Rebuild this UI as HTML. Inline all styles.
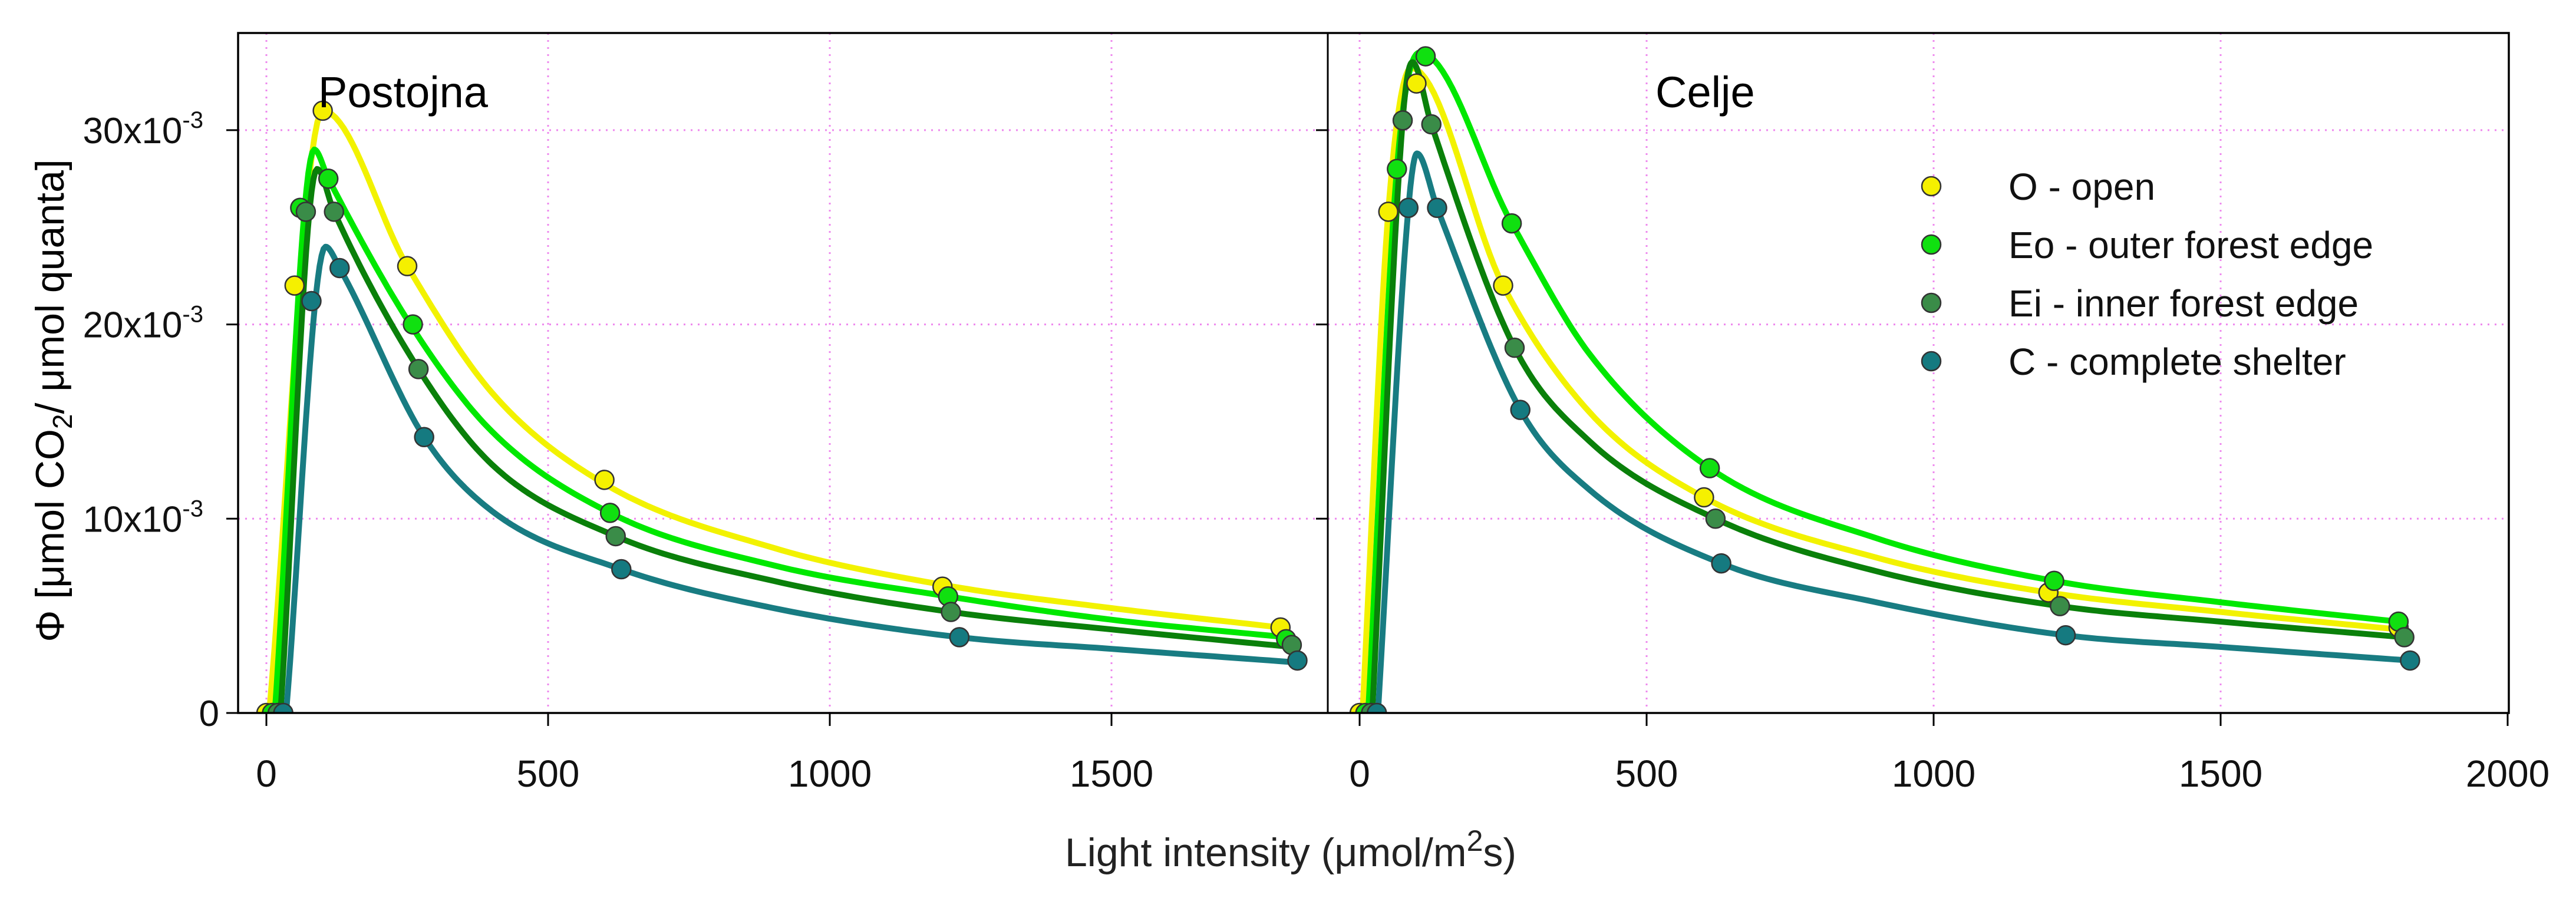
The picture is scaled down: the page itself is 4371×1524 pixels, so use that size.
<!DOCTYPE html>
<html><head><meta charset="utf-8"><style>
html,body{margin:0;padding:0;background:#fff;}
svg{display:block;font-family:"Liberation Sans",sans-serif;}
</style></head><body>
<svg id="chart" width="4371" height="1524" viewBox="0 0 4371 1524">
<g id="grid"></g>
<defs>
<clipPath id="clip1"><rect x="404" y="56" width="1849" height="1154"/></clipPath>
<clipPath id="clip2"><rect x="2253" y="56" width="2004" height="1154"/></clipPath>
</defs>
<g id="series1" clip-path="url(#clip1)"></g>
<g id="series2" clip-path="url(#clip2)"></g>
<g id="axes"></g>
<text x="540" y="182" font-size="74">Postojna</text>
<text x="2809" y="182" font-size="74">Celje</text>
<text transform="translate(108,680) rotate(-90)" text-anchor="middle" font-size="68">Φ [μmol CO<tspan font-size="46" dy="14">2</tspan><tspan dy="-14">/ μmol quanta]</tspan></text>
<text x="2190" y="1470" text-anchor="middle" font-size="68" fill="#222">Light intensity (μmol/m<tspan font-size="50" dy="-26">2</tspan><tspan dy="26">s)</tspan></text>
<g id="legend"></g>
</svg>
<script>
const yTicks=[0,0.01,0.02,0.03];
const yTickLabels=["0","10x10","20x10","30x10"];
const xTicks1=[0,500,1000,1500];
const xTicks2=[0,500,1000,1500,2000];
const seriesNames=["O - open","Eo - outer forest edge","Ei - inner forest edge","C - complete shelter"];
// Postojna measured points
const pX_O=[0,50,100,250,600,1200,1800];
const pY_O=[0,0.022,0.031,0.023,0.012,0.0065,0.0044];
const pX_Eo=[10,60,110,260,610,1210,1810];
const pY_Eo=[0,0.026,0.0275,0.020,0.0103,0.006,0.0038];
const pX_Ei=[20,70,120,270,620,1215,1820];
const pY_Ei=[0,0.0258,0.0258,0.0177,0.0091,0.0052,0.0035];
const pX_C=[30,80,130,280,630,1230,1830];
const pY_C=[0,0.0212,0.0229,0.0142,0.0074,0.0039,0.0027];
// Postojna fitted curves
const pcX_O=[5,100,250,400,600,900,1200,1500,1800];
const pcY_O=[0,0.031,0.023,0.0165,0.0118,0.0085,0.0066,0.0054,0.0044];
const pcX_Eo=[15,85,110,260,400,610,900,1210,1500,1810];
const pcY_Eo=[0,0.029,0.0275,0.0198,0.0145,0.0103,0.0076,0.006,0.0048,0.0039];
const pcX_Ei=[25,90,120,270,400,620,900,1215,1500,1820];
const pcY_Ei=[0,0.028,0.0258,0.0177,0.0128,0.0091,0.0068,0.0052,0.0043,0.0034];
const pcX_C=[35,105,130,280,400,630,900,1230,1500,1830];
const pcY_C=[0,0.024,0.0229,0.0142,0.0104,0.0074,0.0054,0.0039,0.0033,0.0026];
// Celje measured points
const cX_O=[0,50,99,250,600,1200,1810];
const cY_O=[0,0.0258,0.0324,0.022,0.0111,0.0062,0.0044];
const cX_Eo=[10,65,115,265,610,1210,1810];
const cY_Eo=[0,0.028,0.0338,0.0252,0.0126,0.0068,0.0047];
const cX_Ei=[20,75,125,270,620,1220,1820];
const cY_Ei=[0,0.0305,0.0303,0.0188,0.0100,0.0055,0.0039];
const cX_C=[30,85,135,280,630,1230,1830];
const cY_C=[0,0.026,0.026,0.0156,0.0077,0.0040,0.0027];
// Celje fitted curves
const ccX_O=[5,50,90,250,400,600,900,1200,1500,1810];
const ccY_O=[0,0.0258,0.0332,0.022,0.0155,0.0111,0.0080,0.0062,0.0052,0.0043];
const ccX_Eo=[15,65,105,265,400,610,900,1210,1500,1810];
const ccY_Eo=[0,0.028,0.034,0.0252,0.0185,0.0126,0.0090,0.0068,0.0057,0.0047];
const ccX_Ei=[22,75,92,125,270,400,620,900,1220,1500,1820];
const ccY_Ei=[0,0.0305,0.0335,0.0303,0.0188,0.0140,0.0100,0.0073,0.0055,0.0047,0.0039];
const ccX_C=[32,85,100,135,280,400,630,900,1230,1500,1830];
const ccY_C=[0,0.026,0.0288,0.026,0.0156,0.0115,0.0077,0.0057,0.0040,0.0034,0.0027];

const NS="http://www.w3.org/2000/svg";
const lineCols=["#f2f200","#00e800","#0a800a","#187c82"];
const markCols=["#f5f000","#10e010","#3a8c48","#157a80"];
const keys=["O","Eo","Ei","C"];
const TOP=56,BOT=1210;
function yS(v){return BOT-v/0.035*(BOT-TOP);}
const panels=[
 {x0:452,k:0.956,left:404,right:2253,pts:[[pX_O,pY_O],[pX_Eo,pY_Eo],[pX_Ei,pY_Ei],[pX_C,pY_C]],crv:[[pcX_O,pcY_O],[pcX_Eo,pcY_Eo],[pcX_Ei,pcY_Ei],[pcX_C,pcY_C]],xt:xTicks1,g:"series1",nm:"postojna"},
 {x0:2307,k:0.974,left:2253,right:4257,pts:[[cX_O,cY_O],[cX_Eo,cY_Eo],[cX_Ei,cY_Ei],[cX_C,cY_C]],crv:[[ccX_O,ccY_O],[ccX_Eo,ccY_Eo],[ccX_Ei,ccY_Ei],[ccX_C,ccY_C]],xt:xTicks2,g:"series2",nm:"celje"}
];
function mk(tag,attrs,parent){const e=document.createElementNS(NS,tag);for(const a in attrs)e.setAttribute(a,attrs[a]);parent.appendChild(e);return e;}
function monotone(xs,ys){
 const n=xs.length,d=[],m=new Array(n);
 for(let i=0;i<n-1;i++)d.push((ys[i+1]-ys[i])/(xs[i+1]-xs[i]));
 m[0]=d[0];m[n-1]=d[n-2];
 for(let i=1;i<n-1;i++){m[i]=(d[i-1]*d[i]<=0)?0:(d[i-1]+d[i])/2;}
 for(let i=0;i<n-1;i++){if(d[i]===0){m[i]=0;m[i+1]=0;continue;}const a=m[i]/d[i],b=m[i+1]/d[i],s=a*a+b*b;if(s>9){const t=3/Math.sqrt(s);m[i]=t*a*d[i];m[i+1]=t*b*d[i];}}
 const out=[];
 for(let i=0;i<n-1;i++){const h=xs[i+1]-xs[i];for(let j=0;j<20;j++){const t=j/20,t2=t*t,t3=t2*t;
  const y=(2*t3-3*t2+1)*ys[i]+(t3-2*t2+t)*h*m[i]+(-2*t3+3*t2)*ys[i+1]+(t3-t2)*h*m[i+1];out.push([xs[i]+t*h,y]);}}
 out.push([xs[n-1],ys[n-1]]);return out;
}
const grid=document.getElementById("grid"),axes=document.getElementById("axes");
panels.forEach(p=>{
 const xS=v=>p.x0+v*p.k;
 p.xt.forEach(t=>{const X=xS(t);
  if(X<p.right-2){const gl=mk("line",{x1:X,x2:X,y1:TOP,y2:BOT,stroke:"#ee88ee","stroke-width":3,"stroke-dasharray":"3 9"},grid);
  
  }
  const tk=mk("line",{x1:X,x2:X,y1:BOT,y2:BOT+22,stroke:"#000","stroke-width":3},axes);
  
  
  const tl=mk("text",{x:X,y:1335,"text-anchor":"middle","font-size":64,fill:"#111"},axes);tl.textContent=String(t);
  
  
 });
 yTicks.forEach((t,i)=>{const Y=yS(t);
  if(i>0){const gl=mk("line",{x1:p.left,x2:p.right,y1:Y,y2:Y,stroke:"#ee88ee","stroke-width":3,"stroke-dasharray":"3 9"},grid);
  
  }
  const tk=mk("line",{x1:p.left-20,x2:p.left,y1:Y,y2:Y,stroke:"#000","stroke-width":3},axes);
  
  
 });
 const g=document.getElementById(p.g);
 p.crv.forEach((c,si)=>{const pts=monotone(c[0],c[1]);
  const path=mk("path",{d:"M"+pts.map(q=>xS(q[0]).toFixed(1)+","+yS(q[1]).toFixed(1)).join("L"),fill:"none",stroke:lineCols[si],"stroke-width":10,"stroke-linejoin":"round"},g);
  
  
 });
 p.pts.forEach((s,si)=>{s[0].forEach((xv,i)=>{
  const c=mk("circle",{cx:xS(xv),cy:yS(s[1][i]),r:16,fill:markCols[si],stroke:"#333","stroke-width":2.5},g);
  
  
 });});
});
// frames
const fr=mk("rect",{x:404,y:56,width:3853,height:1154,fill:"none",stroke:"#000","stroke-width":3.5},axes);


const dv=mk("line",{x1:2253,x2:2253,y1:56,y2:1210,stroke:"#000","stroke-width":3},axes);


yTicks.forEach((t,i)=>{const Y=yS(t);
 const tl=mk("text",{x:i===0?372:345,y:Y+22,"text-anchor":"end","font-size":62,fill:"#111"},axes);
 tl.textContent=yTickLabels[i];
 if(i>0){const sp=mk("tspan",{"font-size":40,dy:-26},tl);sp.textContent="-3";}
 
 
});
const lg=document.getElementById("legend");
seriesNames.forEach((n,i)=>{const Y=316+i*99;
 const c=mk("circle",{cx:3277,cy:Y,r:16,fill:markCols[i],stroke:"#333","stroke-width":2.5},lg);
 
 
 const t=mk("text",{x:3408,y:Y+23,"font-size":64,fill:"#111"},lg);t.textContent=n;
 
 
});
</script>
</body></html>
